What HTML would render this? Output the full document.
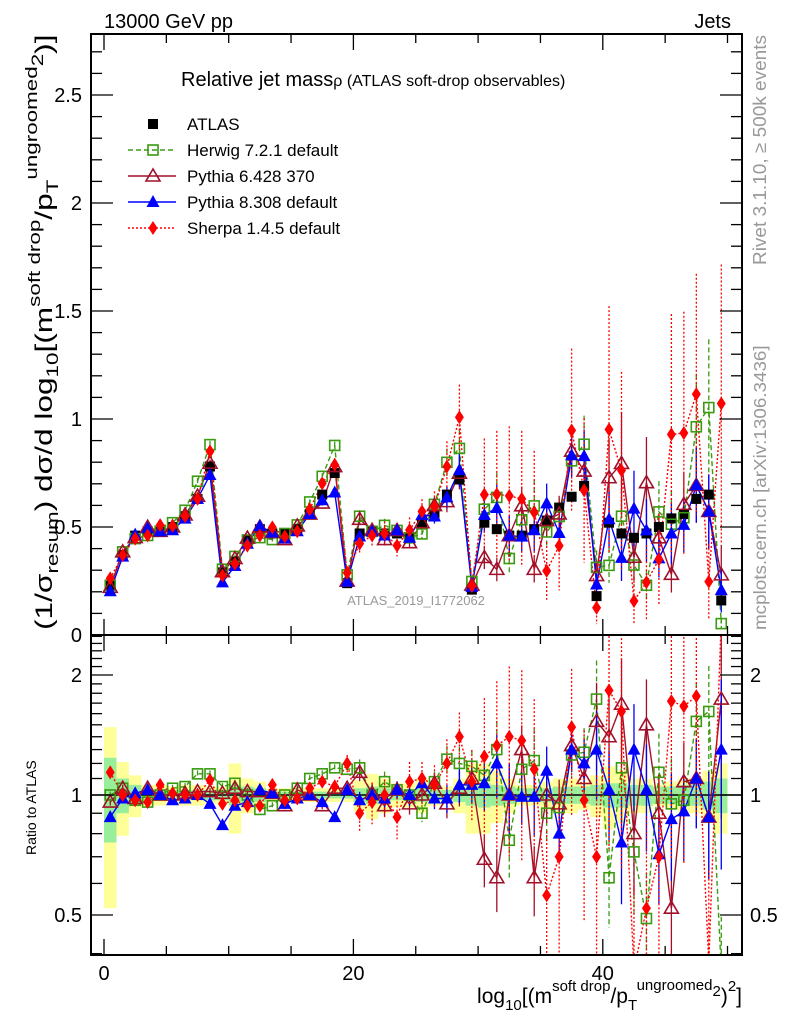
<!DOCTYPE html>
<html><head><meta charset="utf-8"><style>
html,body{margin:0;background:#fff;overflow:hidden;width:786px;height:1024px}
svg{display:block;font-family:"Liberation Sans","DejaVu Sans",sans-serif;overflow:hidden}
</style></head><body>
<svg id="chart" width="786" height="1024" viewBox="0 0 786 1024" xmlns="http://www.w3.org/2000/svg">
<defs>
<clipPath id="cm"><rect x="91" y="34" width="651" height="601"/></clipPath>
<clipPath id="cr"><rect x="91" y="635" width="651" height="320"/></clipPath>
</defs>
<rect width="786" height="1024" fill="#fff"/>
<g id="bands" clip-path="url(#cr)"></g>
<g id="mainMarks" clip-path="url(#cm)"></g>
<g id="ratioMarks" clip-path="url(#cr)"></g>
<g id="axes"></g>
<text x="104" y="28" font-size="20">13000 GeV pp</text>
<text x="731" y="28" font-size="20" text-anchor="end">Jets</text>
<text x="181" y="86" font-size="20">Relative jet mass<tspan font-size="16">ρ (ATLAS soft-drop observables)</tspan></text>
<text x="416" y="605" font-size="13" fill="#999" text-anchor="middle">ATLAS_2019_I1772062</text>
<g id="rivetG" transform="translate(766,265) rotate(-90)"><text id="rivetT" font-size="18" fill="#999">Rivet 3.1.10, ≥ 500k events</text></g>
<g id="mcG" transform="translate(766,630) rotate(-90)"><text id="mcT" font-size="18" fill="#999">mcplots.cern.ch [arXiv:1306.3436]</text></g>
<g id="ytG" transform="translate(52,630) rotate(-90)"><text id="ytT" font-size="24">(1/σ<tspan font-size="17" dy="6">resum</tspan><tspan dy="-6">) dσ/d log</tspan><tspan font-size="17" dy="6">10</tspan><tspan dy="-6">[(m</tspan><tspan font-size="17" dy="-12">soft drop</tspan><tspan dy="12">/p</tspan><tspan font-size="17" dy="6">T</tspan><tspan font-size="17" dy="-21">ungroomed</tspan><tspan font-size="17" dy="6">2</tspan><tspan dy="9">)]</tspan></text></g>
<text transform="translate(36,855) rotate(-90)" font-size="14">Ratio to ATLAS</text>
<text x="742" y="1003" font-size="21" text-anchor="end">log<tspan font-size="15" dy="7">10</tspan><tspan dy="-7">[(m</tspan><tspan font-size="15" dy="-12">soft drop</tspan><tspan dy="12">/p</tspan><tspan font-size="15" dy="7">T</tspan><tspan font-size="15" dy="-20">ungroomed</tspan><tspan font-size="15" dy="6">2</tspan><tspan dy="7">)</tspan><tspan font-size="15" dy="-12">2</tspan><tspan dy="12">]</tspan></text>
<g id="legend"></g>
</svg>
<script>
const atlas = [0.23,0.37,0.46,0.48,0.48,0.50,0.55,0.63,0.78,0.29, 0.34,0.44,0.49,0.47,0.47,0.49,0.56,0.65,0.75,0.24, 0.47,0.48,0.47,0.47,0.45,0.52,0.56,0.65,0.72,0.21, 0.52,0.49,0.46,0.46,0.49,0.53,0.59,0.64,0.69,0.18, 0.52,0.47,0.45,0.47,0.50,0.54,0.56,0.63,0.65,0.16];
const herwigR = [1.0,1.04,0.97,0.96,1.0,1.04,1.05,1.13,1.13,1.05, 1.07,1.0,0.92,0.94,1.0,1.04,1.1,1.13,1.17,1.16, 1.17,1.0,1.08,1.03,1.0, 0.9,1.08,1.23,1.2,1.18, 1.12,1.3,0.77,1.16,1.22,0.9,0.93,1.26,1.28,1.74, 0.62,1.17,0.72,0.49,1.14,0.95,0.97,1.53,1.62,0.33];
const pythia6R = [0.96,1.04,0.98,1.04,1.0,1.0,1.01,1.02,1.02,1.01, 1.04,1.02,1.02,1.01,0.94,1.03,1.0,0.94,1.04,1.04, 1.14,1.01,0.94,1.03,0.95, 1.0,1.07,0.95,1.04,1.1, 0.69,0.62,1.0,1.3,0.62,1.0,0.95,1.33,1.1,1.53, 1.4,1.69,0.8,1.5,0.9,0.52,1.08,1.1,0.88,1.74];
const pythia8R = [0.88,0.98,1.01,1.03,1.0,0.97,0.98,1.0,0.95,0.84, 0.94,0.96,1.03,1.01,0.95,0.98,1.0,0.96,0.88,1.03, 0.97,1.0,0.98,1.03,1.0, 1.07,0.98,0.98,1.06,1.06, 1.07,1.2,1.0,0.99,0.99,1.15,0.8,1.3,1.2,1.3, 1.03,0.76,1.3,1.03,0.71,0.87,0.91,1.1,0.88,1.3];
const sherpaR = [1.14,1.0,0.97,0.96,1.06,1.01,1.0,1.0,1.09,0.95, 0.97,0.94,0.94,1.06,0.97,0.98,1.04,1.08,1.05,1.2, 0.9,0.96,1.0,0.88,1.08, 1.1,1.06,1.2,1.4,1.08, 1.25,1.33,1.4,1.37,1.16,0.56,0.7,1.48,0.97,0.7, 1.83,1.62,0.35,0.52,0.7,1.72,1.67,1.77,0.38,6.7];
const bandTot = [0.48,0.21,0.12,0.06,0.06,0.05,0.06,0.06,0.05,0.05, 0.2,0.1,0.08,0.04,0.04,0.04,0.04,0.04,0.04,0.04, 0.09,0.13,0.1,0.07,0.07, 0.1,0.06,0.05,0.1,0.2, 0.2,0.15,0.1,0.06,0.06,0.08,0.1,0.1,0.08,0.12, 0.18,0.15,0.1,0.1,0.06,0.08,0.1,0.1,0.15,0.2];
const bandStat = [0.24,0.1,0.06,0.03,0.03,0.03,0.03,0.03,0.03,0.03, 0.06,0.05,0.04,0.02,0.02,0.02,0.02,0.02,0.02,0.02, 0.04,0.05,0.04,0.03,0.03, 0.04,0.03,0.03,0.04,0.06, 0.07,0.06,0.05,0.04,0.04,0.04,0.05,0.05,0.05,0.06, 0.07,0.07,0.06,0.06,0.05,0.05,0.06,0.06,0.08,0.1];
const mcErr = [0.02,0.02,0.02,0.02,0.02,0.02,0.02,0.02,0.02,0.02, 0.02,0.02,0.02,0.02,0.02,0.02,0.02,0.02,0.02,0.02, 0.05,0.06,0.06,0.05,0.06, 0.05,0.06,0.08,0.1,0.1, 0.15,0.18,0.2,0.15,0.2,0.15,0.15,0.12,0.15,0.25, 0.25,0.3,0.3,0.3,0.25,0.3,0.25,0.25,0.3,0.5];
const sherpaErr = [0.03,0.03,0.03,0.03,0.03,0.03,0.03,0.03,0.03,0.03, 0.03,0.03,0.03,0.03,0.03,0.03,0.03,0.03,0.04,0.05, 0.1,0.12,0.12,0.12,0.12, 0.1,0.12,0.15,0.15,0.2, 0.4,0.45,0.5,0.5,0.5,0.45,0.5,0.4,0.5,0.6, 0.6,0.6,0.7,0.7,0.6,0.6,0.6,0.5,0.7,0.6];
const mainTicks = ["0","0.5","1","1.5","2","2.5"];
const mainTickVals = [0,0.5,1,1.5,2,2.5];
const ratioTicks = ["0.5","1","2"];
const ratioTickVals = [0.5,1,2];
const xTicks = ["0","20","40"];
const xTickVals = [0,20,40];

const NS="http://www.w3.org/2000/svg";
const X=v=>104+12.47*v;
const cl=(y,a,b)=>Math.min(Math.max(y,a),b);
const Y=v=>cl(635-216*v,20,650);
const R=r=>cl(795-120*Math.log2(Math.max(r,0.01)),620,970);
function mk(tag,attrs,parent){const e=document.createElementNS(NS,tag);for(const k in attrs)e.setAttribute(k,attrs[k]);parent.appendChild(e);return e;}
const gM=document.getElementById('mainMarks'),gR=document.getElementById('ratioMarks'),gB=document.getElementById('bands'),gA=document.getElementById('axes'),gL=document.getElementById('legend');

atlas.forEach((a,i)=>{
  let r=mk('rect',{x:X(i),y:R(1+bandTot[i]),width:12.47,height:R(1-bandTot[i])-R(1+bandTot[i]),fill:'#ffff99'},gB);
  
  
  let s=mk('rect',{x:X(i),y:R(1+bandStat[i]),width:12.47,height:R(1-bandStat[i])-R(1+bandStat[i]),fill:'#99ee99'},gB);
  
  
});
let one=mk('line',{x1:91,x2:742,y1:R(1),y2:R(1),stroke:'#000','stroke-width':1.5},gB);



function marker(type,x,y,color,g){
  let e;
  if(type==='sqf') e=mk('rect',{x:x-5,y:y-5,width:10,height:10,fill:'#000'},g);
  else if(type==='sqo') e=mk('rect',{x:x-5,y:y-5,width:10,height:10,fill:'none',stroke:color,'stroke-width':1.6},g);
  else if(type==='tro') e=mk('polygon',{points:`${x},${y-7} ${x-7},${y+5} ${x+7},${y+5}`,fill:'none',stroke:color,'stroke-width':1.6},g);
  else if(type==='trf') e=mk('polygon',{points:`${x},${y-7} ${x-6.5},${y+5} ${x+6.5},${y+5}`,fill:color},g);
  else e=mk('polygon',{points:`${x},${y-7} ${x-4.5},${y} ${x},${y+7} ${x+4.5},${y}`,fill:color},g);
  return e;
}
const series=[
 {name:'herwig',r:herwigR,err:mcErr,color:'#3a9a10',dash:'5,3',m:'sqo'},
 {name:'pythia6',r:pythia6R,err:mcErr,color:'#a0102a',dash:'',m:'tro'},
 {name:'pythia8',r:pythia8R,err:mcErr,color:'#0000ff',dash:'',m:'trf'},
 {name:'sherpa',r:sherpaR,err:sherpaErr,color:'#ff0000',dash:'2,2',m:'dia'}
];
series.forEach(s=>{
  const pm=[],pr=[];
  s.r.forEach((r,i)=>{
    const v=atlas[i]*r, x=X(i+0.5), e=s.err[i];
    pm.push(x+','+Y(v)); pr.push(x+','+R(r));
    let eb=mk('line',{x1:x,x2:x,y1:Y(v*(1+e)),y2:Y(v*(1-e)),stroke:s.color,'stroke-width':1.3,'stroke-dasharray':s.dash},gM);
    
    
    let er=mk('line',{x1:x,x2:x,y1:R(r*(1+e)),y2:R(r*(1-e)),stroke:s.color,'stroke-width':1.3,'stroke-dasharray':s.dash},gR);
    
    
  });
  let l=mk('polyline',{points:pm.join(' '),fill:'none',stroke:s.color,'stroke-width':1.4,'stroke-dasharray':s.dash},gM);
  
  
  let l2=mk('polyline',{points:pr.join(' '),fill:'none',stroke:s.color,'stroke-width':1.4,'stroke-dasharray':s.dash},gR);
  
  
});
atlas.forEach((a,i)=>{
  let p=marker('sqf',X(i+0.5),Y(a),'#000',gM);
  
  
});
series.forEach(s=>{
  s.r.forEach((r,i)=>{
    let p=marker(s.m,X(i+0.5),Y(atlas[i]*r),s.color,gM);
    
    
    let q=marker(s.m,X(i+0.5),R(r),s.color,gR);
    
    
  });
});

[[34,635],[635,955]].forEach(([t,b],k)=>{
  let f=mk('rect',{x:91,y:t,width:651,height:b-t,fill:'none',stroke:'#000','stroke-width':2},gA);
  
  
  for(let v=0;v<=50;v+=5){
    const x=X(v), L=(v%20===0)?16:9;
    mk('line',{x1:x,x2:x,y1:b,y2:b-L,stroke:'#000','stroke-width':1.3},gA);
    mk('line',{x1:x,x2:x,y1:t,y2:t+L,stroke:'#000','stroke-width':1.3},gA);
  }
});
for(let v=0;v<=2.75;v+=0.1){
  const y=635-216*v, maj=Math.abs(v*2-Math.round(v*2))<1e-6, L=maj?22:11;
  mk('line',{x1:91,x2:91+L,y1:y,y2:y,stroke:'#000','stroke-width':1.3},gA);
  mk('line',{x1:742,x2:742-L,y1:y,y2:y,stroke:'#000','stroke-width':1.3},gA);
}
const rminor=[0.4,0.5,0.6,0.7,0.8,0.9,1,1.1,1.2,1.3,1.4,1.5,1.6,1.7,1.8,1.9,2,2.1,2.2,2.3,2.4,2.5];
rminor.forEach(v=>{
  const y=795-120*Math.log2(v), maj=(v===0.5||v===1||v===2), L=maj?22:11;
  if(y<636||y>954) return;
  mk('line',{x1:91,x2:91+L,y1:y,y2:y,stroke:'#000','stroke-width':1.3},gA);
  mk('line',{x1:742,x2:742-L,y1:y,y2:y,stroke:'#000','stroke-width':1.3},gA);
});
mainTicks.forEach((t,i)=>{
  let e=mk('text',{x:82,y:Y(mainTickVals[i])+7,'font-size':20,'text-anchor':'end'},gA);
  e.textContent=t;
  
  
});
ratioTicks.forEach((t,i)=>{
  [[82,'end'],[750,'start']].forEach(([x,a])=>{
    let e=mk('text',{x:x,y:R(ratioTickVals[i])+7,'font-size':20,'text-anchor':a},gA);
    e.textContent=t;
    
    
  });
});
xTicks.forEach((t,i)=>{
  let e=mk('text',{x:X(xTickVals[i]),y:980,'font-size':20,'text-anchor':'middle'},gA);
  e.textContent=t;
  
  
});

const legNames=['ATLAS','Herwig 7.2.1 default','Pythia 6.428 370','Pythia 8.308 default','Sherpa 1.4.5 default'];
const legM=['sqf','sqo','tro','trf','dia'];
const legC=['#000','#3a9a10','#a0102a','#0000ff','#ff0000'];
const legD=['','5,3','','','2,2'];
legNames.forEach((n,i)=>{
  const y=124+26*i;
  const g=mk('g',{},gL);
  
  
  if(i>0) mk('line',{x1:128,x2:176,y1:y,y2:y,stroke:legC[i],'stroke-width':1.4,'stroke-dasharray':legD[i]},g);
  marker(legM[i],153,y,legC[i],g);
  const t=mk('text',{x:187,y:y+6,'font-size':17},g);
  t.textContent=n;
});

function fit(id,gid,len,tr){
  const t=document.getElementById(id);
  const w=t.getBBox().width;
  if(w>0){ document.getElementById(gid).setAttribute('transform',tr+' scale('+(len/w)+',1)'); }
}
fit('ytT','ytG',595,'translate(52,630) rotate(-90)');
fit('rivetT','rivetG',230,'translate(766,265) rotate(-90)');
fit('mcT','mcG',285,'translate(766,630) rotate(-90)');
</script>
</body></html>
